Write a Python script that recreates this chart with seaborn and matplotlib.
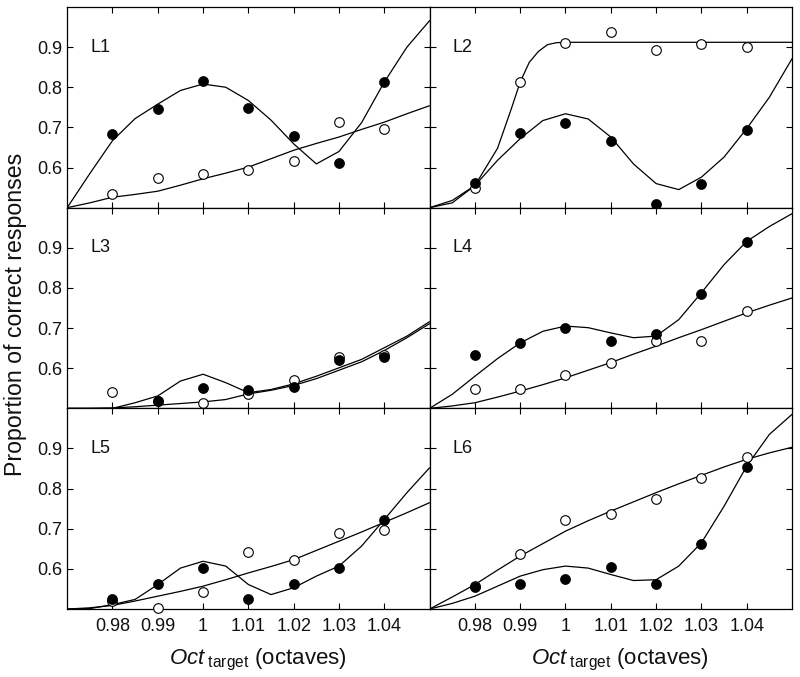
import numpy as np
import pandas as pd
import matplotlib
matplotlib.use("Agg")
import matplotlib.pyplot as plt
import seaborn as sns

sns.set_theme(style="white")
plt.rcParams['font.family'] = ['Liberation Sans', 'DejaVu Sans']
plt.rcParams['mathtext.fontset'] = 'custom'
plt.rcParams['mathtext.rm'] = 'Liberation Sans'
plt.rcParams['mathtext.it'] = 'Liberation Sans:italic'

# ---------------- data ----------------
panel_names = ["L1", "L2", "L3", "L4", "L5", "L6"]
x_points = [0.98, 0.99, 1.00, 1.01, 1.02, 1.03, 1.04]
x_tick_labels = ["0.98", "0.99", "1", "1.01", "1.02", "1.03", "1.04"]
y_ticks = [0.6, 0.7, 0.8, 0.9]
y_tick_labels = ["0.6", "0.7", "0.8", "0.9"]

filled_L1 = [0.684, 0.746, 0.816, 0.749, 0.679, 0.612, 0.813]
open_L1 = [0.533, 0.574, 0.585, 0.593, 0.616, 0.714, 0.696]
filled_L2 = [0.561, 0.687, 0.710, 0.667, 0.508, 0.558, 0.694]
open_L2 = [0.550, 0.813, 0.910, 0.937, 0.893, 0.907, 0.901]
filled_L3 = [np.nan, 0.518, 0.551, 0.545, 0.554, 0.621, 0.628]
open_L3 = [0.541, 0.518, 0.513, 0.536, 0.570, 0.628, 0.634]
filled_L4 = [0.633, 0.662, 0.700, 0.667, 0.684, 0.785, 0.915]
open_L4 = [0.547, 0.547, 0.584, 0.612, 0.669, 0.667, 0.742]
filled_L5 = [0.525, 0.563, 0.601, 0.524, 0.563, 0.602, 0.723]
open_L5 = [0.520, 0.503, 0.542, 0.642, 0.623, 0.690, 0.696]
filled_L6 = [0.554, 0.563, 0.575, 0.604, 0.563, 0.663, 0.854]
open_L6 = [0.557, 0.638, 0.721, 0.738, 0.775, 0.826, 0.879]

# fitted curves at these x positions
curve_x = [0.970, 0.975, 0.980, 0.985, 0.990, 0.995, 1.000, 1.005, 1.010,
           1.015, 1.020, 1.025, 1.030, 1.035, 1.040, 1.045, 1.050]
curve_filled_L1 = [0.500, 0.585, 0.667, 0.722, 0.758, 0.792, 0.808, 0.800, 0.767,
                   0.718, 0.659, 0.609, 0.640, 0.712, 0.813, 0.900, 0.966]
curve_open_L1 = [0.500, 0.512, 0.526, 0.533, 0.541, 0.556, 0.572, 0.586, 0.601,
                 0.622, 0.643, 0.660, 0.676, 0.695, 0.713, 0.734, 0.754]
curve_filled_L2 = [0.500, 0.518, 0.555, 0.618, 0.672, 0.717, 0.734, 0.721, 0.676,
                   0.609, 0.560, 0.545, 0.576, 0.626, 0.697, 0.775, 0.871]
# the L2 open curve bends sharply, so it was read at its own x positions
curve_x_open_L2 = [0.970, 0.975, 0.980, 0.985, 0.988, 0.990, 0.992, 0.994,
                   0.996, 0.998, 1.000, 1.050]
curve_open_L2 = [0.500, 0.512, 0.555, 0.648, 0.745, 0.813, 0.862, 0.889,
                 0.906, 0.911, 0.912, 0.912]
curve_filled_L3 = [0.500, 0.500, 0.500, 0.514, 0.531, 0.568, 0.585, 0.564, 0.539,
                   0.547, 0.561, 0.580, 0.601, 0.622, 0.651, 0.680, 0.716]
curve_open_L3 = [0.500, 0.500, 0.501, 0.504, 0.508, 0.512, 0.516, 0.522, 0.536,
                 0.545, 0.557, 0.574, 0.595, 0.616, 0.644, 0.676, 0.711]
curve_filled_L4 = [0.500, 0.535, 0.580, 0.624, 0.663, 0.692, 0.705, 0.701, 0.688,
                   0.676, 0.680, 0.721, 0.788, 0.858, 0.916, 0.953, 0.985]
curve_open_L4 = [0.500, 0.506, 0.514, 0.528, 0.543, 0.559, 0.576, 0.595, 0.614,
                 0.635, 0.655, 0.676, 0.696, 0.717, 0.738, 0.757, 0.775]
curve_filled_L5 = [0.500, 0.501, 0.511, 0.524, 0.561, 0.602, 0.619, 0.607, 0.561,
                   0.536, 0.553, 0.582, 0.607, 0.657, 0.723, 0.790, 0.852]
curve_open_L5 = [0.500, 0.503, 0.509, 0.520, 0.532, 0.544, 0.557, 0.573, 0.590,
                 0.606, 0.623, 0.646, 0.669, 0.692, 0.716, 0.740, 0.765]
curve_filled_L6 = [0.500, 0.514, 0.532, 0.557, 0.582, 0.598, 0.607, 0.602, 0.586,
                   0.571, 0.573, 0.607, 0.665, 0.756, 0.856, 0.935, 0.985]
curve_open_L6 = [0.500, 0.530, 0.561, 0.597, 0.632, 0.663, 0.694, 0.720, 0.744,
                 0.767, 0.790, 0.812, 0.833, 0.854, 0.873, 0.889, 0.903]

filled_pts = [filled_L1, filled_L2, filled_L3, filled_L4, filled_L5, filled_L6]
open_pts = [open_L1, open_L2, open_L3, open_L4, open_L5, open_L6]
curves_filled = [(curve_x, curve_filled_L1), (curve_x, curve_filled_L2),
                 (curve_x, curve_filled_L3), (curve_x, curve_filled_L4),
                 (curve_x, curve_filled_L5), (curve_x, curve_filled_L6)]
curves_open = [(curve_x, curve_open_L1), (curve_x_open_L2, curve_open_L2),
               (curve_x, curve_open_L3), (curve_x, curve_open_L4),
               (curve_x, curve_open_L5), (curve_x, curve_open_L6)]

# ---------------- figure ----------------
fig, axes = plt.subplots(3, 2, figsize=(8.0, 6.77), dpi=100, sharex=True, sharey=True)
fig.subplots_adjust(left=0.084, right=0.99, top=0.9897, bottom=0.1004,
                    wspace=0, hspace=0)

for i, ax in enumerate(axes.flat):
    for cx, cy in (curves_open[i], curves_filled[i]):
        cdf = pd.DataFrame({"x": cx, "y": cy})
        sns.lineplot(data=cdf, x="x", y="y", ax=ax, color="black", lw=0.9,
                     estimator=None, sort=False)
    pdf = pd.DataFrame({"x": x_points, "filled": filled_pts[i], "open": open_pts[i]})
    sns.scatterplot(data=pdf, x="x", y="open", ax=ax, s=48, facecolor="white",
                    edgecolor="black", linewidth=0.8, zorder=3, clip_on=False)
    sns.scatterplot(data=pdf.dropna(), x="x", y="filled", ax=ax, s=52, color="black",
                    edgecolor="black", linewidth=0.5, zorder=4, clip_on=False)

    ax.set_xlim(0.97, 1.05)
    ax.set_ylim(0.5, 1.0)
    ax.set_xticks(x_points)
    ax.set_yticks(y_ticks)
    ax.set_xlabel("")
    ax.set_ylabel("")
    ax.tick_params(direction="in", length=4, width=0.8, color="black",
                   top=True, right=True, bottom=True, left=True,
                   labelsize=13, labelcolor="#111111")
    ax.tick_params(axis="x", pad=6.5)
    ax.tick_params(axis="y", pad=3.5)
    for sp in ax.spines.values():
        sp.set_color("black")
        sp.set_linewidth(0.9)
    ax.text(0.063, 0.80, panel_names[i], transform=ax.transAxes,
            fontsize=13, color="#111111", va="center", ha="left")

for ax in axes[-1, :]:
    ax.set_xticklabels(x_tick_labels)
    ax.set_xlabel(r"$\mathit{Oct}_{\ \mathrm{target}}$ (octaves)", fontsize=16,
                  color="#111111")
    ax.xaxis.set_label_coords(0.525, -0.19)

fig.text(0.019, 0.535, "Proportion of correct responses", rotation=90,
         fontsize=16.7, color="#111111", ha="center", va="center")

fig.savefig("out.png", dpi=100)
